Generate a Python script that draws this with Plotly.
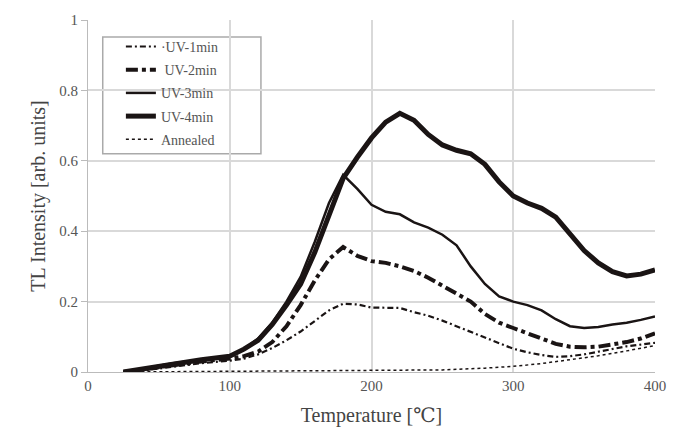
import plotly.graph_objects as go

temps = [25, 40, 60, 80, 100, 110, 120, 130, 140, 150, 160, 170, 180, 190, 200,
         210, 220, 230, 240, 250, 260, 270, 280, 290, 300, 310, 320, 330, 340,
         350, 360, 370, 380, 390, 400]

uv4 = [0, 0.01, 0.025, 0.035, 0.045, 0.065, 0.09, 0.135, 0.19, 0.25, 0.34, 0.45,
       0.55, 0.61, 0.665, 0.71, 0.735, 0.715, 0.675, 0.645, 0.63, 0.62, 0.59, 0.54,
       0.5, 0.48, 0.465, 0.44, 0.395, 0.345, 0.31, 0.285, 0.273, 0.278, 0.29]

uv3 = [0, 0.01, 0.025, 0.035, 0.045, 0.065, 0.095, 0.14, 0.2, 0.27, 0.37, 0.48,
       0.56, 0.52, 0.475, 0.455, 0.448, 0.425, 0.41, 0.39, 0.36, 0.3, 0.25, 0.215,
       0.2, 0.19, 0.175, 0.15, 0.13, 0.125, 0.128, 0.135, 0.14, 0.148, 0.158]

uv2 = [0, 0.008, 0.02, 0.03, 0.038, 0.045, 0.058, 0.085, 0.13, 0.19, 0.26, 0.32,
       0.355, 0.33, 0.315, 0.31, 0.3, 0.287, 0.268, 0.245, 0.22, 0.2, 0.165, 0.14,
       0.125, 0.11, 0.095, 0.08, 0.072, 0.07, 0.072, 0.078, 0.085, 0.095, 0.11]

uv1 = [0, 0.005, 0.015, 0.025, 0.032, 0.038, 0.05, 0.068, 0.09, 0.115, 0.145, 0.175,
       0.194, 0.192, 0.183, 0.182, 0.182, 0.17, 0.16, 0.146, 0.13, 0.115, 0.1, 0.082,
       0.066, 0.056, 0.048, 0.043, 0.045, 0.05, 0.058, 0.067, 0.073, 0.078, 0.083]

ann_temps = [25, 100, 150, 200, 250, 280, 300, 320, 340, 360, 380, 400]
annealed = [0, 0.002, 0.002, 0.003, 0.006, 0.011, 0.016, 0.024, 0.035, 0.046, 0.06, 0.075]

x_ticks = [0, 100, 200, 300, 400]
y_ticks = [0, 0.2, 0.4, 0.6, 0.8, 1]

SERIF = "Liberation Serif, DejaVu Serif, serif"
INK = "#1a1414"

fig = go.Figure()
fig.add_trace(go.Scatter(x=temps, y=uv1, mode="lines", name="·UV-1min", legendgroup="a",
                         line=dict(color=INK, width=2.2, dash="6px,3px,2px,3px")))
fig.add_trace(go.Scatter(x=temps, y=uv2, mode="lines", name=" UV-2min", legendgroup="b",
                         line=dict(color=INK, width=4, dash="12px,4px,4px,4px")))
fig.add_trace(go.Scatter(x=temps, y=uv3, mode="lines", name="UV-3min", legendgroup="c",
                         line=dict(color=INK, width=2.5)))
fig.add_trace(go.Scatter(x=temps, y=uv4, mode="lines", name="UV-4min", legendgroup="d",
                         line=dict(color=INK, width=5)))
fig.add_trace(go.Scatter(x=ann_temps, y=annealed, mode="lines", name="Annealed", legendgroup="e",
                         line=dict(color=INK, width=1.5, dash="dot")))

fig.add_shape(type="rect", xref="paper", yref="paper",
              x0=0.026, x1=0.305, y0=0.62, y1=0.952,
              line=dict(color="#aaaaaa", width=1.5), fillcolor="white", layer="between")

fig.update_layout(
    width=678, height=448,
    margin=dict(l=88, r=17, t=17, b=76),
    paper_bgcolor="white", plot_bgcolor="white",
    font=dict(family=SERIF, color="#555555"),
    showlegend=True,
    legend=dict(x=0.058, y=0.969, xanchor="left", yanchor="top",
                bgcolor="rgba(0,0,0,0)", borderwidth=0,
                font=dict(family=SERIF, size=14, color="#555555"),
                itemwidth=30, tracegroupgap=2),
    xaxis=dict(range=[0, 400], tickvals=x_ticks, ticktext=[str(v) for v in x_ticks],
               showgrid=True, gridcolor="#d9d9d9", gridwidth=1.5,
               showline=True, linecolor="#bbbbbb", linewidth=1,
               zeroline=False, ticks="", tickfont=dict(size=15, color="#555555"),
               title=dict(text="Temperature [\u2103]", font=dict(size=20, color="#444444"),
                          standoff=14)),
    yaxis=dict(range=[0, 1], tickvals=y_ticks, ticktext=["0", "0.2", "0.4", "0.6", "0.8", "1"],
               showgrid=True, gridcolor="#d9d9d9", gridwidth=1.5,
               showline=True, linecolor="#bbbbbb", linewidth=1,
               zeroline=False, ticks="outside", ticklen=6, tickcolor="#bbbbbb",
               tickfont=dict(size=15, color="#555555"),
               title=dict(text="TL Intensity [arb. units]", font=dict(size=20, color="#444444"),
                          standoff=8)),
)

fig.write_html("out.html")
